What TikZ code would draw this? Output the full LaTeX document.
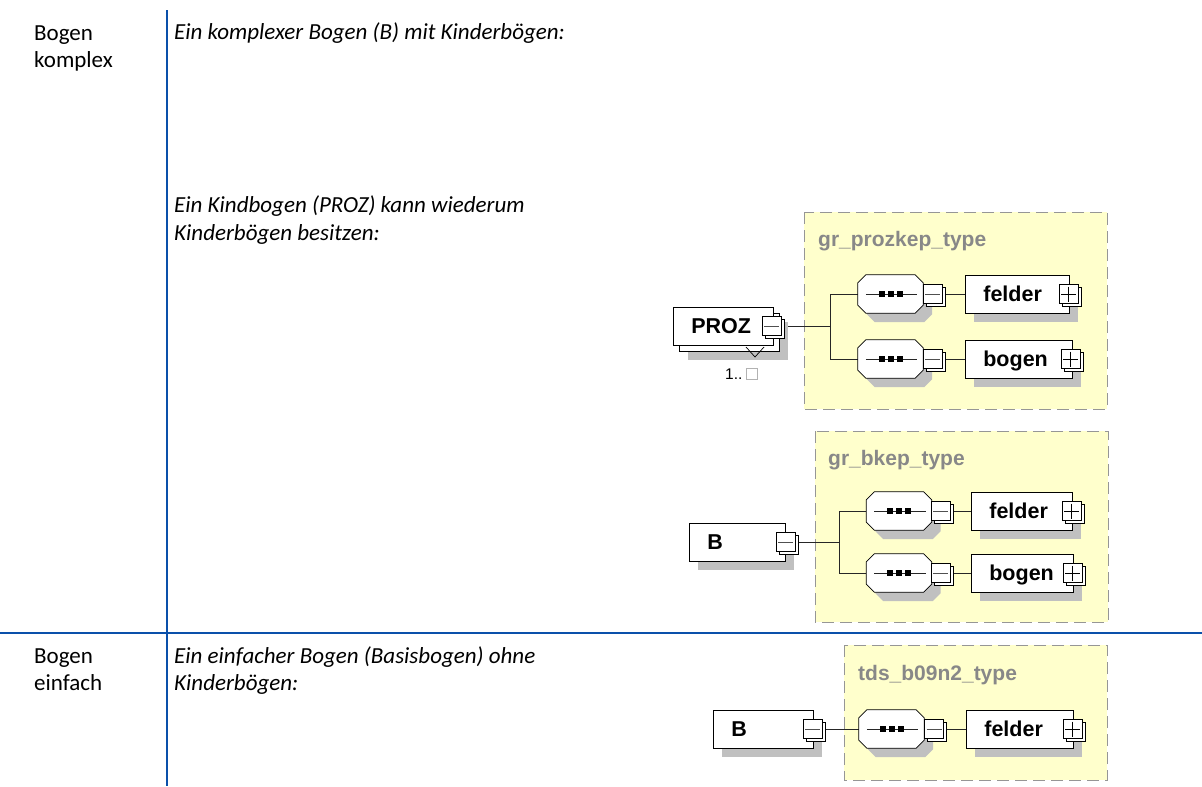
\documentclass[tikz,border=0pt]{standalone}
\usepackage{fontspec}
\setmainfont{Carlito}
\newfontfamily\arialf{Liberation Sans}
\usetikzlibrary{shadows,calc}
\pgfdeclarelayer{back}\pgfdeclarelayer{mid}\pgfsetlayers{back,mid,main}
\definecolor{tblue}{RGB}{10,80,170}
\definecolor{yel}{RGB}{255,255,204}
\definecolor{shad}{RGB}{192,192,192}
\definecolor{ttlc}{RGB}{136,136,136}
\definecolor{dashc}{RGB}{150,150,150}
\definecolor{signc}{RGB}{80,80,80}
\tikzset{
  txt/.style={anchor=base west, inner sep=0pt, align=left, font=\fontsize{23}{27.5}\selectfont},
  txtit/.style={txt, font=\fontsize{23}{27.5}\selectfont\itshape},
  grp/.style={draw=dashc, fill=yel, dash pattern=on 12pt off 6pt, line width=0.9pt},
  ttl/.style={anchor=base west, inner sep=0pt, text=ttlc, font=\arialf\bfseries\fontsize{21}{25}\selectfont},
  shd/.style={drop shadow={shadow xshift=9pt, shadow yshift=-9pt, fill=shad, opacity=1}},
  elem/.style={draw=black, fill=white, line width=0.7pt, minimum height=38pt, inner xsep=18pt, inner ysep=0pt,
    text height=15pt, text depth=0pt, align=left, anchor=west, font=\arialf\bfseries\fontsize{21.5}{25}\selectfont},
  pmf/.style={draw=black, fill=white, line width=0.7pt, minimum size=19pt, inner sep=0pt},
  minus/.style={pmf, path picture={\draw[signc, line width=0.6pt] ([xshift=2pt]path picture bounding box.west) -- ([xshift=-2pt]path picture bounding box.east);}},
  plus/.style={pmf, path picture={\draw[black, line width=0.6pt] ([xshift=2pt]path picture bounding box.west) -- ([xshift=-2pt]path picture bounding box.east) ([yshift=-2pt]path picture bounding box.north) -- ([yshift=2pt]path picture bounding box.south);}},
  octo/.style={draw=black, fill=white, line width=0.7pt, shd},
  seqa/.style={minimum width=65pt, minimum height=38pt, inner sep=0pt, anchor=center},
  conn/.style={draw=black!85, line width=0.8pt},
  tline/.style={draw=tblue, line width=2pt}
}
\newcommand\pmbx[4]{%
  \node[pmf] (#1b) at (#2+3,#3+3) {};
  \node[#4] (#1) at (#2,#3) {};
}
\newcommand\seqo[3]{%
  \node[seqa] (#1) at (#2,#3) {};
  \path[octo] ([xshift=8pt]#1.north west) -- ([xshift=-8pt]#1.north east) -- ([yshift=-8pt]#1.north east)
    -- ([yshift=8pt]#1.south east) -- ([xshift=-8pt]#1.south east) -- ([xshift=8pt]#1.south west)
    -- ([yshift=8pt]#1.south west) -- ([yshift=-8pt]#1.north west) -- cycle;
  \draw[line width=0.6pt, black!85] ([xshift=8pt]#1.west) -- ([xshift=-6pt]#1.east);
  \foreach \d in {-9,0,9} \fill ([xshift=\d pt]#1.center) ++(-3,-3) rectangle ++(6,6);
}
\begin{document}
\begin{tikzpicture}[x=1pt,y=-1pt]
\useasboundingbox (0,0) rectangle (1202,787);
% table lines
\draw[tline] (167,10) -- (167,786);
\draw[tline] (0,633) -- (1202,633);
% texts (base anchor = baseline of last line)
\node[txt] (l1) at (34,67.5) {Bogen\\komplex};
\node[txtit] (r1) at (174,39) {Ein komplexer Bogen (B) mit Kinderbögen:};
\node[txtit] (r2) at (174,240) {Ein Kindbogen (PROZ) kann wiederum\\Kinderbögen besitzen:};
\node[txt] (l2) at (34,690.5) {Bogen\\einfach};
\node[txtit] (r3) at (174,690.5) {Ein einfacher Bogen (Basisbogen) ohne\\Kinderbögen:};
% groups
\begin{pgfonlayer}{back}
\path[grp] (804,212) rectangle (1107,409);
\path[grp] (815,431) rectangle (1108,622);
\path[grp] (844,645) rectangle (1107,780);
\end{pgfonlayer}
\node[ttl] (t1) at (818,246) {gr\_prozkep\_type};
\node[ttl] (t2) at (828,465) {gr\_bkep\_type};
\node[ttl] (t3) at (858,680) {tds\_b09n2\_type};
% ---- diagram 1
\node[elem, shd, text width=64pt] (prozb) at (679,332) {};
\node[elem, text width=64pt] (proz) at (673,326) {PROZ};
\pmbx{pmP}{771.5}{326}{minus}
\draw[line width=0.7pt] (746,347) -- (755,357) -- (764,347);
\node[anchor=base west, inner sep=0pt, font=\arialf\fontsize{15.5}{18}\selectfont] (mult) at (725,379) {1..};
\draw[gray!60, line width=0.6pt] (746,368) rectangle (757,379);
\seqo{s1}{890.5}{294}
\seqo{s2}{890.5}{359}
\pmbx{pmS1}{932.5}{294}{minus}
\pmbx{pmS2}{932.5}{359}{minus}
\node[elem, shd, text width=68pt] (f1) at (965,294) {felder};
\pmbx{pmF1}{1068.5}{294}{plus}
\node[elem, shd, text width=71pt] (b1) at (965,359) {bogen};
\pmbx{pmB1}{1070.5}{359}{plus}
\coordinate (j1) at (830,326);
% ---- diagram 2
\node[elem, shd, text width=60pt] (bB) at (689,542) {B};
\pmbx{pmBB}{785.5}{542}{minus}
\seqo{s3}{899}{511}
\seqo{s4}{899}{573}
\pmbx{pmS3}{940.5}{511}{minus}
\pmbx{pmS4}{940.5}{573}{minus}
\node[elem, shd, text width=65pt] (f2) at (971,511) {felder};
\pmbx{pmF2}{1071.5}{511}{plus}
\node[elem, shd, text width=66pt] (b2) at (971,573) {bogen};
\pmbx{pmB2}{1072.5}{573}{plus}
\coordinate (j2) at (839,542);
% ---- diagram 3
\node[elem, shd, text width=64pt] (B3) at (713,729) {B};
\pmbx{pmB3}{812.5}{729}{minus}
\seqo{s5}{891.5}{729}
\pmbx{pmS5}{934}{729}{minus}
\node[elem, shd, text width=71pt] (f3) at (966,729) {felder};
\pmbx{pmF3}{1072.5}{729}{plus}
% connectors
\begin{pgfonlayer}{mid}
\draw[conn] (pmP) -- (j1) (j1 |- s1) -- (j1 |- s2) (j1 |- s1) -- (s1) (j1 |- s2) -- (s2);
\draw[conn] (pmS1) -- (f1.center) (pmS2) -- (b1.center);
\draw[conn] (pmBB) -- (j2) (j2 |- s3) -- (j2 |- s4) (j2 |- s3) -- (s3) (j2 |- s4) -- (s4);
\draw[conn] (pmS3) -- (f2.center) (pmS4) -- (b2.center);
\draw[conn] (pmB3) -- (s5) (pmS5) -- (f3.center);
\end{pgfonlayer}
\end{tikzpicture}
\end{document}
